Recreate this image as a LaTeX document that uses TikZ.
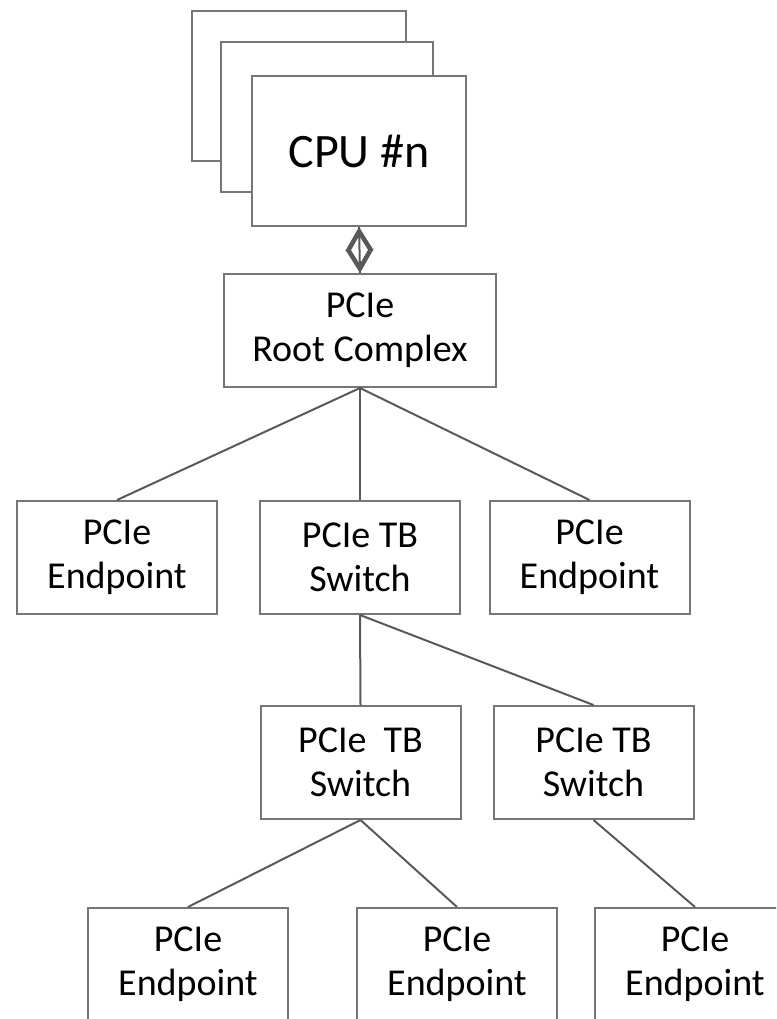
\documentclass[tikz,border=0pt]{standalone}
\usepackage{fontspec}
\setmainfont{Carlito}
\usetikzlibrary{arrows.meta}
\definecolor{boxline}{HTML}{767676}
\definecolor{wireline}{HTML}{595959}
\begin{document}
\begin{tikzpicture}[x=0.75pt, y=-0.75pt,
    unit/.style={draw=boxline, fill=white, line width=1.5pt, inner sep=0pt,
        minimum width=150pt, minimum height=84.75pt, align=center,
        font=\fontsize{28.5}{33}\selectfont},
    cpubox/.style={unit, minimum width=160.5pt, minimum height=112.5pt},
    wire/.style={draw=wireline, line width=1.5pt},
    barb/.tip={Straight Barb[length=15pt,width=18pt]}]
	\path[use as bounding box, clip] (0,0) rectangle (776,1019);

	% CPU stack
	\node[cpubox] (cpuA) at (299,86) {};
	\node[cpubox, minimum width=159pt] (cpuB) at (327,117) {};
	\node[cpubox, font=\fontsize{36}{42}\selectfont] (cpu) at (359,151) {CPU \#n};

	\node[unit, minimum width=204pt] (root) at (360,330.5) {PCIe\\Root Complex};

	\node[unit] (epL) at (117,557.5) {PCIe\\Endpoint};
	\node[unit] (swA) at (360,557.5) {PCIe TB\\Switch};
	\node[unit] (epR) at (589.5,557.5) {PCIe\\Endpoint};

	\node[unit] (swB) at (360.5,762.5) {PCIe\ \ TB\\Switch};
	\node[unit] (swC) at (593.5,762.5) {PCIe TB\\Switch};

	\node[unit] (epA) at (188,964.5) {PCIe\\Endpoint};
	\node[unit] (epB) at (457,964.5) {PCIe\\Endpoint};
	\node[unit] (epC) at (695,964.5) {PCIe\\Endpoint};

	% two-way link, thin shaft and heavy heads
	\draw[wire] (cpu.south) -- (root.north);
	\path[tips, color=wireline, line width=3.4pt, {barb}-{barb}] (cpu.south) -- (root.north);

	\draw[wire] (root.south) -- (epL.north);
	\draw[wire] (root.south) -- (swA.north);
	\draw[wire] (root.south) -- (epR.north);
	\draw[wire] (swA.south) -- (swB.north);
	\draw[wire] (swA.south) -- (swC.north);
	\draw[wire] (swB.south) -- (epA.north);
	\draw[wire] (swB.south) -- (epB.north);
	\draw[wire] (swC.south) -- (epC.north);
\end{tikzpicture}
\end{document}
